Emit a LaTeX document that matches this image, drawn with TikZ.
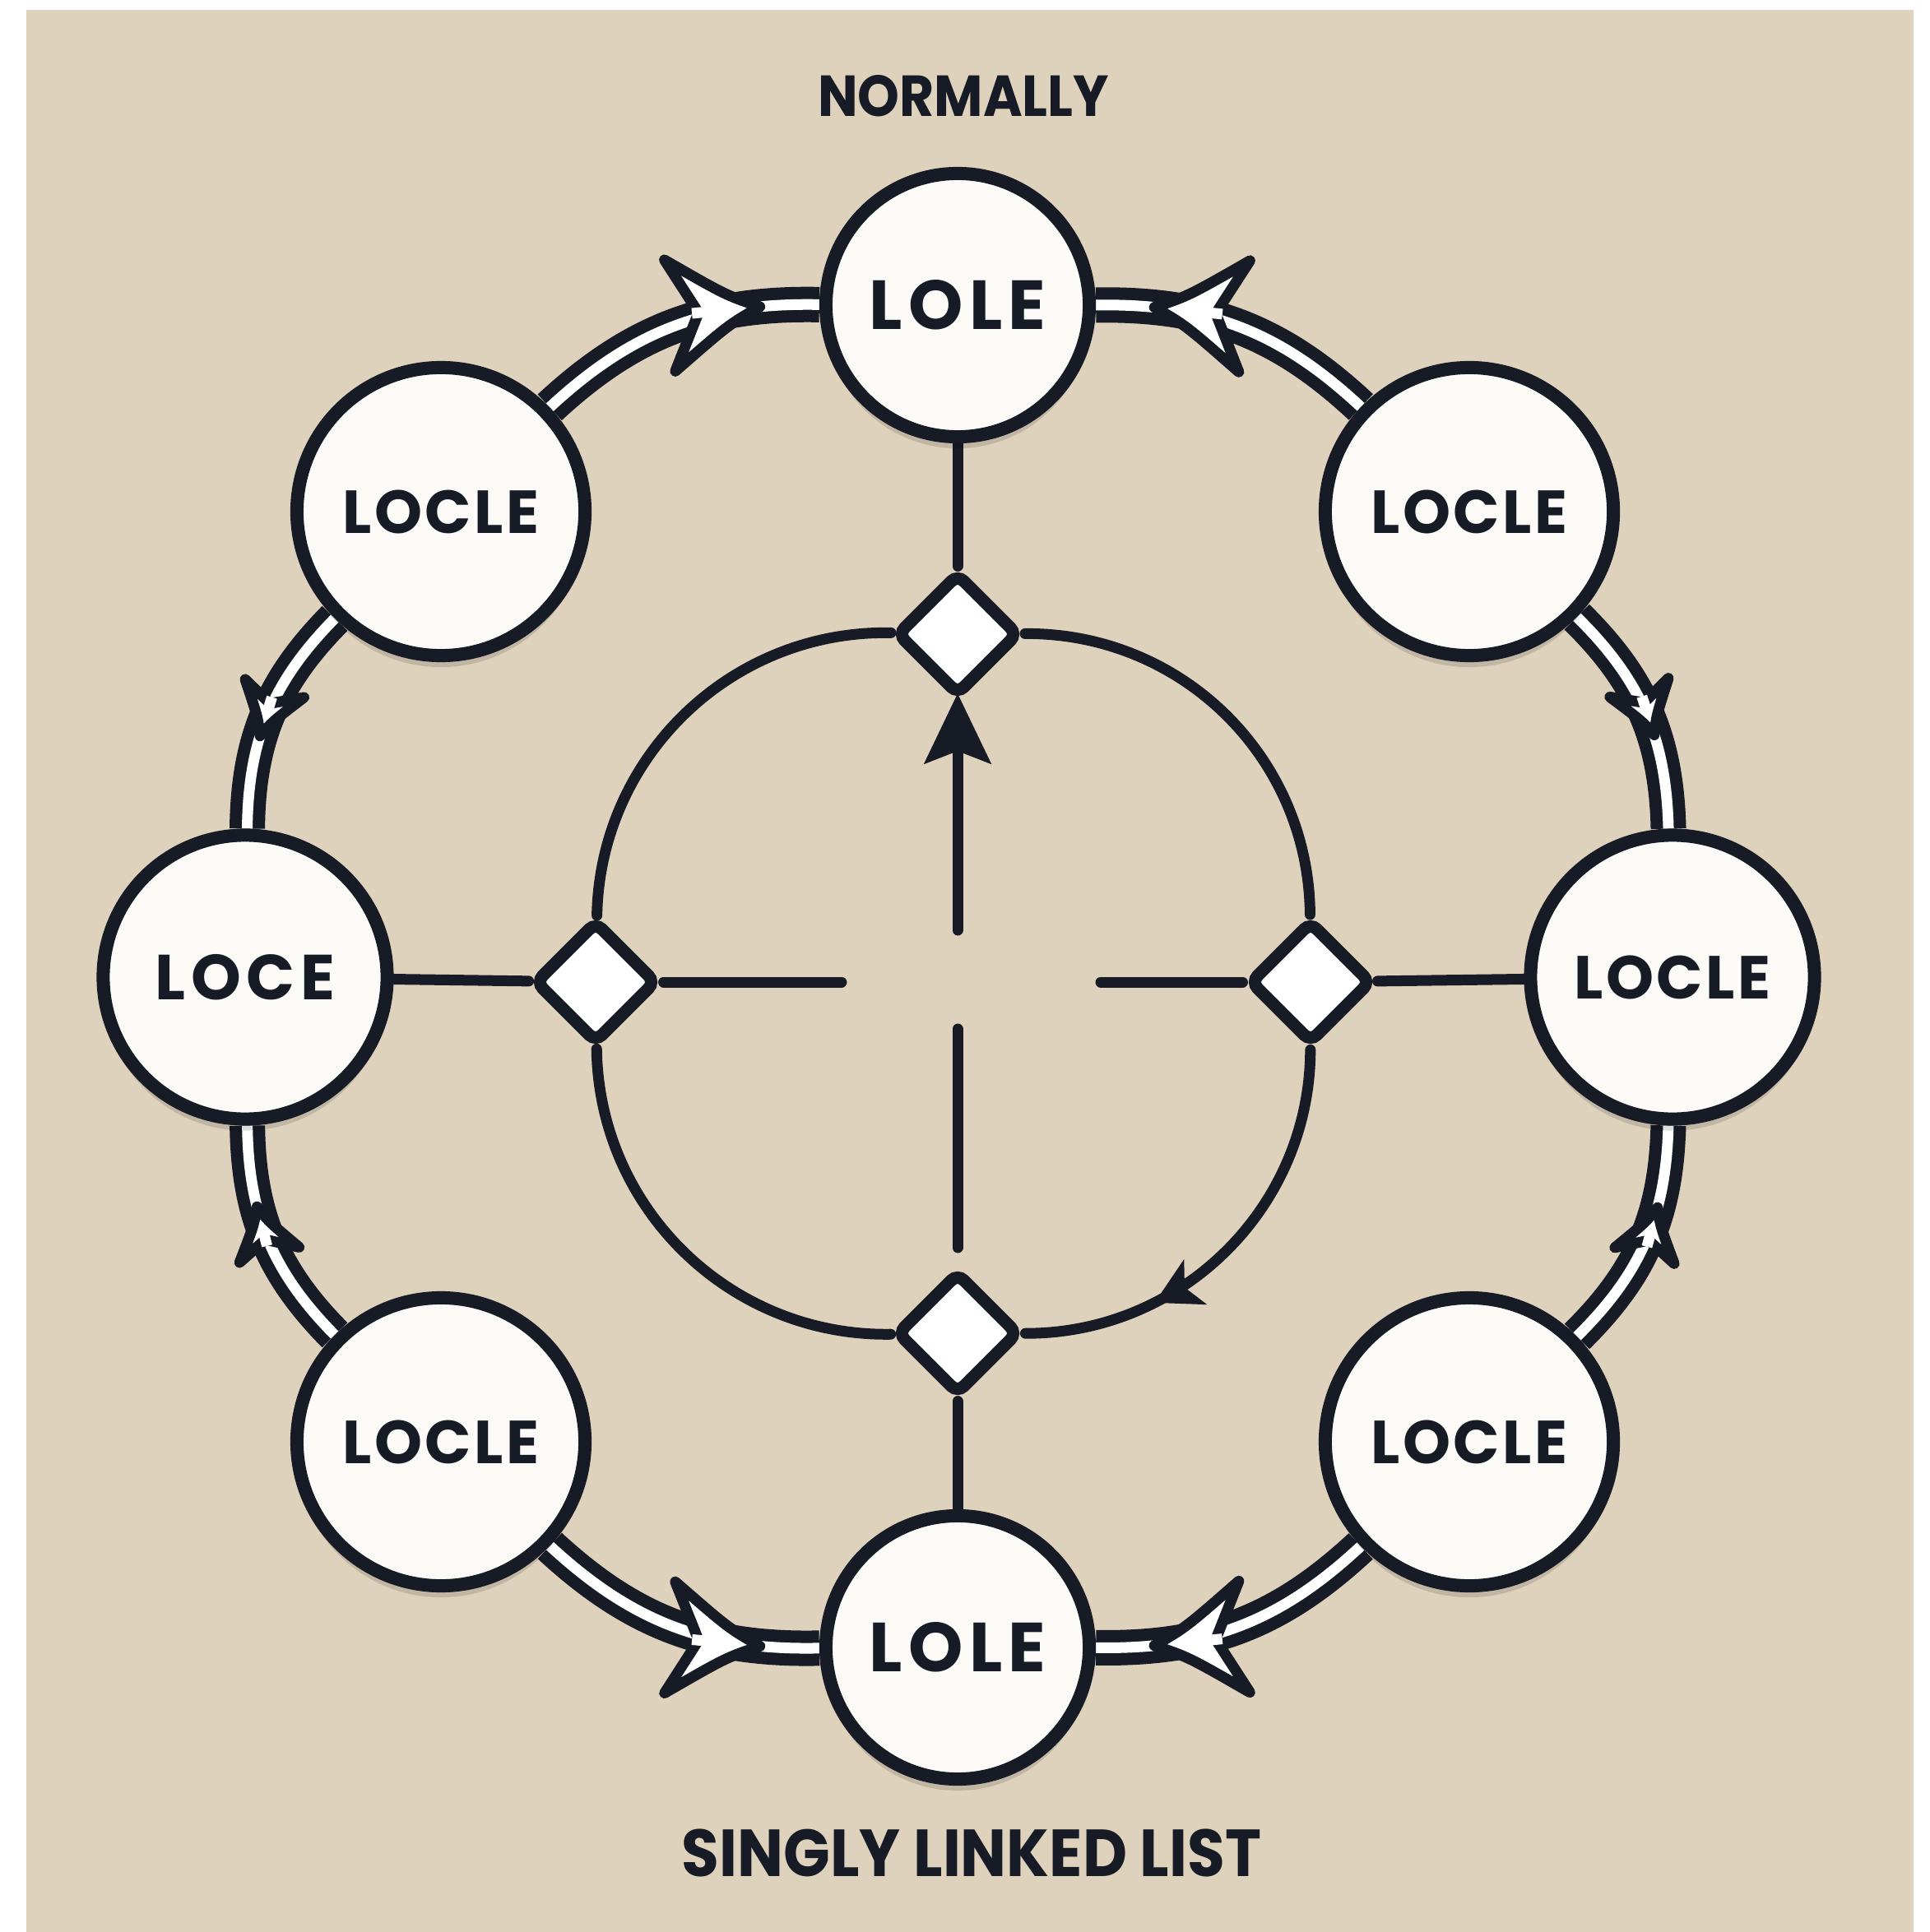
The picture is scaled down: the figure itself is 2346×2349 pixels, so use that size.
\documentclass[tikz,border=0pt]{standalone}
\usepackage{fontspec}
\setmainfont{Poppins}
\newfontfamily\labelfont{Poppins}[LetterSpace=5]
\newfontfamily\widefont{Poppins}[LetterSpace=9]
\newfontfamily\titlefont{Poppins}[FakeStretch=0.92]
\usetikzlibrary{shapes.geometric,arrows.meta,decorations.markings,shadows}
\definecolor{paper}{RGB}{222,210,189}
\definecolor{ink}{RGB}{22,27,38}
\definecolor{beadwhite}{RGB}{251,250,247}

\pgfdeclarelayer{bg}
\pgfsetlayers{bg,main}

% hollow barbed head in mark coordinates (scale)
\newcommand{\headshape}[1]{%
  \filldraw[fill=white, draw=ink, line width=0.13cm, line join=round, scale=#1]
    (0,0) .. controls (-0.4cm,0.18cm) .. (-1.1cm,0.68cm)
    -- (-0.75cm,0) -- (-1.1cm,-0.68cm)
    .. controls (-0.4cm,-0.18cm) .. (0,0) -- cycle;
  \fill[white] ({-0.75cm*#1-0.08cm},-0.065cm) rectangle ({-0.75cm*#1+0.12cm},0.065cm);}

% outer link (from, to, bend, head position, head scale)
\newcommand{\olink}[5]{%
  \begin{pgfonlayer}{bg}
    \draw[link] (#1) to[#3] (#2);
  \end{pgfonlayer}
  \path[decorate, decoration={markings,
      mark=at position #4 with {\headshape{#5}}}] (#1) to[#3] (#2);}

\tikzset{
  bead/.style={circle, draw=ink, line width=0.16cm, fill=beadwhite, inner sep=0pt,
    text=ink, font=\labelfont\bfseries\fontsize{21}{24}\selectfont,
    drop shadow={shadow xshift=0cm, shadow yshift=-0.14cm, fill=black, opacity=0.13}},
  wide/.style={font=\widefont\bfseries\fontsize{#1}{26}\selectfont},
  knot/.style={diamond, draw=ink, line width=0.15cm, fill=white, inner sep=0pt,
    minimum width=1.5cm, minimum height=1.5cm, rounded corners=3pt},
  link/.style={draw=ink, line width=0.15cm, double=white, double distance=0.13cm},
  spoke/.style={draw=ink, line width=0.13cm, line cap=round},
  caption/.style={text=ink, font=\titlefont\bfseries\fontsize{#1}{#1}\selectfont},
}

\begin{document}
\begin{tikzpicture}[x=0.01cm,y=-0.01cm]

% ---- page ----
\useasboundingbox (0,0) rectangle (2346,2349);
\begin{pgfonlayer}{bg}
  \fill[white] (0,0) rectangle (2346,2349);
  \fill[paper] (32,12) rectangle (2326,2349);
\end{pgfonlayer}

% ---- outer ring of list nodes ----
\node[bead, wide=24, minimum size=3.2cm]  (ntop) at (1164,371)  {LOLE};
\node[bead, minimum size=3.5cm]           (nul)  at (536,622)   {LOCLE};
\node[bead, minimum size=3.5cm]           (nur)  at (1786,622)  {LOCLE};
\node[bead, wide=22, minimum size=3.45cm] (nl)   at (298,1188)  {LOCE};
\node[bead, minimum size=3.45cm]          (nr)   at (2033,1188) {LOCLE};
\node[bead, minimum size=3.5cm]           (nll)  at (536,1753)  {LOCLE};
\node[bead, minimum size=3.5cm]           (nlr)  at (1786,1753) {LOCLE};
\node[bead, wide=24, minimum size=3.2cm]  (nbot) at (1164,2003) {LOLE};

% ---- ring links ----
\olink{nul}{ntop}{bend left=22}{0.8}{1}
\olink{nur}{ntop}{bend right=22}{0.8}{1}
\olink{nll}{nbot}{bend right=22}{0.8}{1}
\olink{nlr}{nbot}{bend left=22}{0.8}{1}
\olink{nul}{nl}{bend right=22}{0.6}{0.55}
\olink{nll}{nl}{bend left=22}{0.65}{0.55}
\olink{nur}{nr}{bend left=22}{0.6}{0.55}
\olink{nlr}{nr}{bend right=22}{0.65}{0.55}

% ---- inner hub ----
\node[knot] (dtop) at (1164,771)  {};
\node[knot] (dl)   at (724,1194)  {};
\node[knot] (dr)   at (1593,1194) {};
\node[knot] (dbot) at (1164,1621) {};

\coordinate (hl) at (1023,1194);
\coordinate (hr) at (1338,1194);
\coordinate (ua) at (1164,1131);
\coordinate (ut) at (1164,843);
\coordinate (va) at (1164,1251);
\coordinate (vb) at (1164,1517);

\begin{pgfonlayer}{bg}
  \draw[spoke] (dl) to[bend left=45] (dtop);
  \draw[spoke] (dtop) to[bend left=45] (dr);
  \draw[spoke, postaction={decorate, decoration={markings,
      mark=at position 0.7 with {\arrow{Stealth[length=0.55cm, width=0.6cm, inset=0.14cm]}}}}]
    (dr) to[bend left=45] (dbot);
  \draw[spoke] (dbot) to[bend left=45] (dl);
  \draw[spoke] (ntop) -- (dtop);
  \draw[spoke] (nl) -- (dl);
  \draw[spoke] (dr) -- (nr);
  \draw[spoke] (dbot) -- (nbot);
\end{pgfonlayer}

\draw[spoke] (dl) -- (hl);
\draw[spoke] (hr) -- (dr);
\draw[spoke, -{Stealth[length=0.85cm, width=0.8cm, inset=0.15cm]}] (ua) -- (ut);
\draw[spoke] (va) -- (vb);

% ---- captions ----
\node[caption=20] (ttop) at (1171,117)  {NORMALLY};
\node[caption=23] (tbot) at (1181,2253) {SINGLY LINKED LIST};

\end{tikzpicture}
\end{document}
